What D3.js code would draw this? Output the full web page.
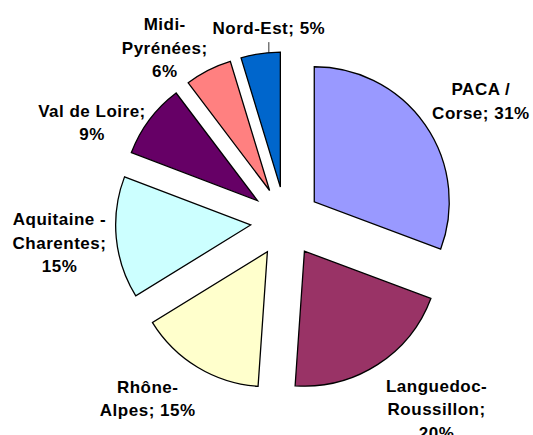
<!DOCTYPE html>
<html>
<head>
<meta charset="utf-8">
<script src="https://cdn.jsdelivr.net/npm/d3@7"></script>
<style>
	body { margin: 0; background: #fff; }
	text { font-family: "Liberation Sans", Arial, sans-serif; font-weight: bold; font-size: 17px; fill: #000; }
</style>
</head>
<body>
<div id="chart"></div>
<script>
// regions, clockwise from 12 o'clock; "|" marks where the label wraps
var names = ["PACA /|Corse", "Languedoc-|Roussillon", "Rhône-|Alpes", "Aquitaine -|Charentes", "Val de Loire", "Midi-|Pyrénées", "Nord-Est"];
var values = [30.7, 20.4, 15.1, 14.6, 8.9, 5.6, 4.7];
var colors = ["#9999FF", "#993366", "#FFFFCC", "#CCFFFF", "#660066", "#FF8080", "#0066CC"];

// label nudges away from the default position (Excel moved some of them)
var nudges = [[13, 6], [31, 1], [-23, -13], [-5, 0], [-16, 34], [-20, 24], [16, 26]];
var leaders = [false, false, false, false, false, false, true];

var width = 533, height = 435;
var cx = 285.5, cy = 221.7;
var radius = 135, explode = 35, labelRadius = 222, lineHeight = 23.5;

var svg = d3.select("#chart").append("svg")
	.attr("width", width)
	.attr("height", height);

var pie = d3.pie().sort(null).value(function(d) { return d; });
var arcs = pie(values);
var arc = d3.arc().innerRadius(0).outerRadius(radius);

function mid(d) { return (d.startAngle + d.endAngle) / 2; }

var g = svg.append("g").attr("transform", "translate(" + cx + "," + cy + ")");

g.selectAll("path.slice")
	.data(arcs)
	.enter()
	.append("path")
	.attr("class", "slice")
	.attr("transform", function(d) {
		var a = mid(d);
		return "translate(" + (Math.sin(a) * explode) + "," + (-Math.cos(a) * explode) + ")";
	})
	.attr("d", arc)
	.attr("fill", function(d, i) { return colors[i]; })
	.attr("stroke", "#000")
	.attr("stroke-width", 1.3)
	.attr("stroke-linejoin", "miter");

// measure helper
var probe = svg.append("text").attr("visibility", "hidden");
function textWidth(s) {
	probe.text(s);
	return probe.node().getComputedTextLength();
}

arcs.forEach(function(d, i) {
	var pct = Math.round(values[i]) + "%";
	var parts = names[i].split("|");
	var last = parts.pop();
	if (textWidth(last + "; " + pct) <= 110) {
		parts.push(last + "; " + pct);
	} else {
		parts.push(last + ";", pct);
	}
	var a = mid(d);
	var lx = cx + Math.sin(a) * labelRadius + nudges[i][0];
	var ly = cy - Math.cos(a) * labelRadius + nudges[i][1];
	var first = ly - (parts.length - 1) * lineHeight / 2 + 6;

	var t = svg.append("text")
		.attr("text-anchor", "middle")
		.attr("letter-spacing", "0.5px");
	parts.forEach(function(line, j) {
		t.append("tspan")
			.attr("x", lx)
			.attr("y", first + j * lineHeight)
			.text(line);
	});

	if (leaders[i]) {
		var ax = cx + Math.sin(a) * explode;
		var ay = cy - Math.cos(a) * explode;
		var dx = lx - ax;
		var yArc = ay - Math.sqrt(radius * radius - dx * dx);
		svg.append("line")
			.attr("x1", lx).attr("x2", lx)
			.attr("y1", first + (parts.length - 1) * lineHeight + 8)
			.attr("y2", yArc)
			.attr("stroke", "#000")
			.attr("stroke-width", 0.8);
	}
});
probe.remove();
</script>
</body>
</html>
